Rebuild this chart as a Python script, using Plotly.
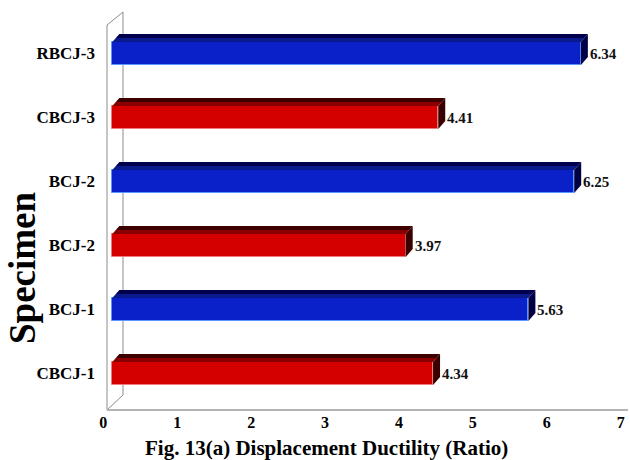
import plotly.graph_objects as go

# Specimens from bottom to top and their displacement ductility ratios
specimens = ["CBCJ-1", "BCJ-1", "BCJ-2", "BCJ-2", "CBCJ-3", "RBCJ-3"]
ductility = [4.34, 5.63, 3.97, 6.25, 4.41, 6.34]
series = ["control", "retrofit", "control", "retrofit", "control", "retrofit"]
x_ticks = [0, 1, 2, 3, 4, 5, 6, 7]

FONT = "Liberation Serif"
W, H = 630, 460
L, R, T, B = 109, 630, 10, 410          # plot area in pixels
X_RANGE = [-0.045, 7.005]
Y_RANGE = [-0.570, 5.680]

PX_PER_X = (R - L) / (X_RANGE[1] - X_RANGE[0])
PX_PER_Y = (B - T) / (Y_RANGE[1] - Y_RANGE[0])
BAR_W = 23 / PX_PER_Y                   # front-face thickness (category units)
DX = 7 / PX_PER_X                       # depth offset, x units
DY = 8 / PX_PER_Y                       # depth offset, y units

style = {
    "control": dict(front="#d40000", edge="#f07a7a", top_dark="#3c0000",
                    top_light="#8a0000", side="#3a0000"),
    "retrofit": dict(front="#0a20c8", edge="#5a96ff", top_dark="#00004e",
                     top_light="#0a1a8a", side="#000045"),
}


def px_x(p):
    return (p - L) / (R - L)


def px_y(p):
    return (B - p) / (B - T)


fig = go.Figure()

# box frame: left wall and floor edges
frame = [
    ((107, 25), (107, 410), "#8c8c8c", 1),
    ((107, 25), (123, 12), "#8c8c8c", 1),
    ((123, 12), (123, 395), "#8c8c8c", 1),
    ((107, 410), (123, 395), "#8c8c8c", 1),
    ((107, 410), (628, 410), "#b4b4b4", 2),
]
for (x0, y0), (x1, y1), col, lw in frame:
    fig.add_shape(type="line", xref="paper", yref="paper",
                  x0=px_x(x0), y0=px_y(y0), x1=px_x(x1), y1=px_y(y1),
                  line=dict(color=col, width=lw), layer="below")

# front faces
for kind in ("control", "retrofit"):
    idx = [i for i, s in enumerate(series) if s == kind]
    st = style[kind]
    fig.add_trace(go.Bar(
        orientation="h",
        y=idx, x=[ductility[i] for i in idx],
        width=BAR_W,
        marker=dict(color=st["front"], line=dict(color=st["edge"], width=1)),
        showlegend=False, hoverinfo="skip",
    ))

# top and side faces give each bar its depth
for i, (v, kind) in enumerate(zip(ductility, series)):
    st = style[kind]
    yt = i + BAR_W / 2
    yb = i - BAR_W / 2
    # top face in two strips: lighter near the front edge, darker at the back
    fig.add_trace(go.Scatter(
        x=[0, DX / 2, v + DX / 2, v, 0],
        y=[yt, yt + DY / 2, yt + DY / 2, yt, yt],
        fill="toself", fillcolor=st["top_light"], mode="lines",
        line=dict(width=0), showlegend=False, hoverinfo="skip"))
    fig.add_trace(go.Scatter(
        x=[DX / 2, DX, v + DX, v + DX / 2, DX / 2],
        y=[yt + DY / 2, yt + DY, yt + DY, yt + DY / 2, yt + DY / 2],
        fill="toself", fillcolor=st["top_dark"], mode="lines",
        line=dict(width=0), showlegend=False, hoverinfo="skip"))
    # right end face
    fig.add_trace(go.Scatter(
        x=[v, v, v + DX, v + DX, v],
        y=[yb, yt, yt + DY, yb + DY, yb],
        fill="toself", fillcolor=st["side"], mode="lines",
        line=dict(width=0), showlegend=False, hoverinfo="skip"))
    # value label
    fig.add_annotation(x=v + DX, y=i, text=f"{v:.2f}", showarrow=False,
                       xanchor="left", yanchor="middle", xshift=0,
                       font=dict(family=FONT, size=15, color="#111111",
                                 weight="bold"))

# axis titles
fig.add_annotation(xref="paper", yref="paper", x=px_x(326), y=px_y(448),
                   text="Fig. 13(a) Displacement Ductility (Ratio)",
                   showarrow=False, xanchor="center", yanchor="middle",
                   font=dict(family=FONT, size=21, color="black", weight="bold"))
fig.add_annotation(xref="paper", yref="paper", x=px_x(22), y=px_y(268),
                   text="Specimen", textangle=-90,
                   showarrow=False, xanchor="center", yanchor="middle",
                   font=dict(family=FONT, size=37, color="black", weight="bold"))

fig.update_layout(
    width=W, height=H,
    margin=dict(l=L, r=W - R, t=T, b=H - B),
    paper_bgcolor="white", plot_bgcolor="white",
    xaxis=dict(
        range=X_RANGE, tickvals=x_ticks, ticktext=[str(t) for t in x_ticks],
        showgrid=False, zeroline=False, showline=False, ticks="",
        ticklabelshift=-9, ticklabelstandoff=1,
        tickfont=dict(family=FONT, size=16, color="black", weight="bold"),
    ),
    yaxis=dict(
        range=Y_RANGE,
        tickvals=list(range(len(specimens))),
        ticktext=specimens,
        showgrid=False, zeroline=False, showline=False, ticks="",
        ticklabelstandoff=13,
        tickfont=dict(family=FONT, size=17, color="black", weight="bold"),
    ),
    bargap=0,
)

fig.write_html("out.html")
